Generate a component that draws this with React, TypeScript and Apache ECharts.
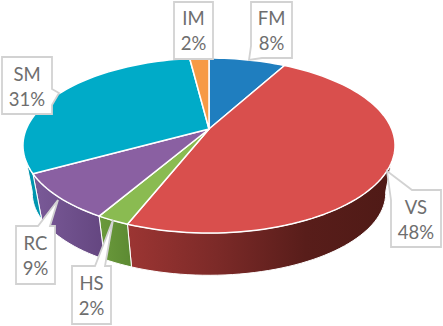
import React, { useEffect, useRef } from "react";
import * as echarts from "echarts";

const categories = ["FM", "VS", "HS", "RC", "SM", "IM"];
const shares = [8, 48, 2.4, 8.6, 31, 2];
const topColors = ["#1F7EBF", "#D94F4D", "#8ABB51", "#8A60A2", "#00ABC8", "#F79A45"];
const sideStops: string[][] = [
  ["#155a8a", "#155a8a"],
  ["#9C3533", "#7C2A28", "#581D1A", "#4F1A16"],
  ["#6B9A3C", "#5C8A32"],
  ["#7A5A98", "#644680"],
  ["#0090A8", "#0098B2"],
  ["#b56a2a", "#b56a2a"],
];

// callout layout: text centre x, first/second line y, outline of the box with its pointer
const callouts: Record<string, { cx: number; y1: number; y2: number; outline: number[][] }> = {
  FM: { cx: 271.5, y1: 18, y2: 43, outline: [[251, 2], [292, 2], [292, 58], [262, 58], [249, 60], [251, 46]] },
  VS: { cx: 416, y1: 207, y2: 232, outline: [[412, 190], [441, 190], [441, 247], [391, 247], [391, 200], [387, 171]] },
  HS: { cx: 91.5, y1: 283, y2: 308, outline: [[72, 266], [95, 266], [113, 220], [105, 266], [111, 266], [111, 324], [72, 324]] },
  RC: { cx: 35.5, y1: 243, y2: 268, outline: [[16, 226], [38, 226], [58, 200], [50, 226], [55, 226], [55, 284], [16, 284]] },
  SM: { cx: 27, y1: 74, y2: 99, outline: [[2, 57], [52, 57], [52, 89], [59, 93], [52, 105], [52, 114], [2, 114]] },
  IM: { cx: 193.5, y1: 18, y2: 43, outline: [[174, 2], [213, 2], [213, 59], [174, 59]] },
};

const CX = 209;
const APEX_Y = 129;
const R = 182.7;
const S = 84.4;
const K = -0.1886;
const DEPTH_Y = 48.5;
const BX = 0.95;
const BY = 0.94;
const VISIBLE_FROM = 100;
const VISIBLE_TO = 260;

const project = (deg: number, bottom: boolean): number[] => {
  const a = (deg * Math.PI) / 180;
  const u = Math.sin(a);
  const v = -Math.cos(a);
  const w = 1 + K * v;
  return bottom
    ? [CX + (BX * R * u) / w, APEX_Y + DEPTH_Y + (BY * S * v) / w]
    : [CX + (R * u) / w, APEX_Y + (S * v) / w];
};

const arc = (from: number, to: number, bottom: boolean): number[][] => {
  const pts: number[][] = [];
  const n = Math.max(2, Math.ceil((to - from) / 2));
  for (let i = 0; i <= n; i++) pts.push(project(from + ((to - from) * i) / n, bottom));
  return pts;
};

const total = shares.reduce((a, b) => a + b, 0);
const bounds = (i: number): number[] => {
  const before = shares.slice(0, i).reduce((a, b) => a + b, 0);
  return [(before / total) * 360, ((before + shares[i]) / total) * 360];
};

const gradient = (stops: string[]) =>
  new echarts.graphic.LinearGradient(
    0,
    0,
    1,
    0,
    stops.map((color, i) => ({ offset: i / (stops.length - 1), color }))
  );

export default function App() {
  const ref = useRef<HTMLDivElement>(null);
  useEffect(() => {
    document.body.style.margin = "0";
    const chart = echarts.init(ref.current!, null, { renderer: "svg" });
    chart.setOption({
      animation: false,
      backgroundColor: "#ffffff",
      series: [
        {
          type: "custom",
          coordinateSystem: "none",
          silent: true,
          z: 1,
          data: shares,
          renderItem: (params: any) => {
            const [a, b] = bounds(params.dataIndex);
            const from = Math.max(a, VISIBLE_FROM);
            const to = Math.min(b, VISIBLE_TO);
            if (to <= from) return { type: "group", children: [] };
            return {
              type: "polygon",
              shape: { points: [...arc(from, to, false), ...arc(from, to, true).reverse()] },
              style: { fill: gradient(sideStops[params.dataIndex]), stroke: "#ffffff", lineWidth: 1 },
            };
          },
        },
        {
          type: "custom",
          coordinateSystem: "none",
          silent: true,
          z: 2,
          data: shares,
          renderItem: (params: any) => {
            const [a, b] = bounds(params.dataIndex);
            return {
              type: "polygon",
              shape: { points: [[CX, APEX_Y], ...arc(a, b, false)] },
              style: { fill: topColors[params.dataIndex], stroke: "#ffffff", lineWidth: 1.5, lineJoin: "round" },
            };
          },
        },
        {
          type: "custom",
          coordinateSystem: "none",
          silent: true,
          z: 3,
          data: shares,
          renderItem: (params: any) => {
            const name = categories[params.dataIndex];
            const c = callouts[name];
            const font = '18.5px Lato, "Noto Sans", sans-serif';
            const line = (text: string, y: number) => ({
              type: "text",
              style: { text, x: c.cx, y, fill: "#6E6E6E", font, align: "center", verticalAlign: "middle" },
            });
            return {
              type: "group",
              children: [
                {
                  type: "polygon",
                  shape: { points: c.outline },
                  style: { fill: "#ffffff", stroke: "#D2D2D2", lineWidth: 1.8 },
                },
                line(name, c.y1),
                line(`${Math.round(shares[params.dataIndex])}%`, c.y2),
              ],
            };
          },
        },
      ],
    });
    return () => chart.dispose();
  }, []);
  return <div ref={ref} style={{ width: 443, height: 326 }} />;
}
